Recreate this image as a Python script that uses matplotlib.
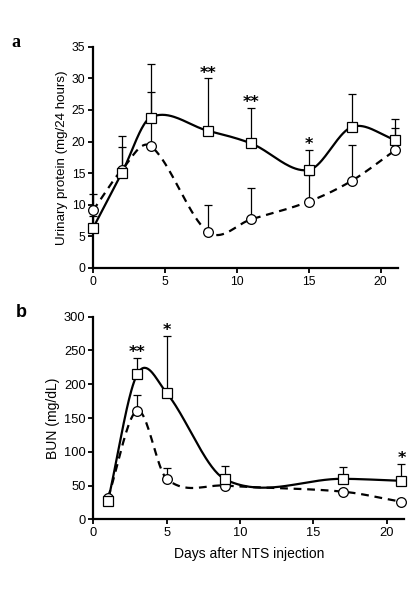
import numpy as np
import matplotlib
matplotlib.use("Agg")
import matplotlib.pyplot as plt

plt.rcParams['font.family'] = ['Liberation Sans', 'DejaVu Sans']

# panel a: urinary protein (mg/24 hours)
days_a = [0, 2, 4, 8, 11, 15, 18, 21]
prot_sq = [6.3, 15.0, 23.8, 21.7, 19.7, 15.5, 22.3, 20.3]
prot_sq_err = [2.0, 5.8, 8.4, 8.3, 5.6, 3.2, 5.2, 3.2]
prot_ci = [9.1, 15.5, 19.3, 5.7, 7.7, 10.5, 13.8, 18.6]
prot_ci_err = [2.6, 3.7, 8.6, 4.3, 4.9, 4.2, 5.7, 3.5]
stars_a = {8: '**', 11: '**', 15: '*'}

# panel b: BUN (mg/dL)
days_b = [1, 3, 5, 9, 17, 21]
bun_sq = [27, 215, 187, 59, 60, 57]
bun_sq_err = [0, 24, 85, 20, 17, 25]
bun_ci = [32, 161, 60, 50, 41, 26]
bun_ci_err = [0, 23, 16, 0, 0, 0]
stars_b = {3: '**', 5: '*', 21: '*'}


def smooth(x, y, n=40):
    # catmull-rom style hermite curve through the points
    x = np.asarray(x, float)
    y = np.asarray(y, float)
    m = np.zeros(len(x))
    m[1:-1] = (y[2:] - y[:-2]) / (x[2:] - x[:-2])
    m[0] = (y[1] - y[0]) / (x[1] - x[0])
    m[-1] = (y[-1] - y[-2]) / (x[-1] - x[-2])
    xs_all, ys_all = [], []
    for i in range(len(x) - 1):
        h = x[i + 1] - x[i]
        t = np.linspace(0, 1, n)
        h00 = 2 * t**3 - 3 * t**2 + 1
        h10 = t**3 - 2 * t**2 + t
        h01 = -2 * t**3 + 3 * t**2
        h11 = t**3 - t**2
        xs_all.append(x[i] + t * h)
        ys_all.append(h00 * y[i] + h10 * h * m[i] + h01 * y[i + 1] + h11 * h * m[i + 1])
    return np.concatenate(xs_all), np.concatenate(ys_all)


def draw(ax, x, y, err, marker, ls):
    x = np.asarray(x, float)
    y = np.asarray(y, float)
    err = np.asarray(err, float)
    xs, ys = smooth(x, y)
    ax.plot(xs, ys, color='k', lw=1.6, linestyle=ls, zorder=2, clip_on=False)
    m = err > 0
    ax.errorbar(x[m], y[m], yerr=[np.zeros(m.sum()), err[m]], fmt='none',
                ecolor='k', elinewidth=0.9, capsize=3.2, capthick=0.9, zorder=1,
                clip_on=False)
    ax.plot(x, y, linestyle='none', marker=marker, ms=6.8 if marker == 's' else 7,
            mfc='white', mec='k', mew=0.9, zorder=3, clip_on=False)


def style(ax, size):
    for s in ['top', 'right']:
        ax.spines[s].set_visible(False)
    for s in ['left', 'bottom']:
        ax.spines[s].set_linewidth(1.6)
    ax.tick_params(direction='out', length=3.5, width=1.3, labelsize=size, pad=2)


fig = plt.figure(figsize=(4.17, 5.89), dpi=100)

ax1 = fig.add_axes([0.223, 0.545, 0.731, 0.3757])
dash = (0, (3.5, 2.6))
draw(ax1, days_a, prot_ci, prot_ci_err, 'o', dash)
draw(ax1, days_a, prot_sq, prot_sq_err, 's', '-')
for d, s in stars_a.items():
    i = days_a.index(d)
    ax1.text(d, prot_sq[i] + prot_sq_err[i] + 0.1, s, ha='center', va='baseline',
             fontsize=11.5, fontweight='bold', family='DejaVu Sans')
ax1.set_xlim(0, 21.2)
ax1.set_ylim(0, 35)
ax1.set_xticks([0, 5, 10, 15, 20])
ax1.set_yticks(range(0, 36, 5))
ax1.set_ylabel('Urinary protein (mg/24 hours)', fontsize=9.6, labelpad=3)
style(ax1, 8.7)

ax2 = fig.add_axes([0.2237, 0.1183, 0.746, 0.344])
draw(ax2, days_b, bun_ci, bun_ci_err, 'o', dash)
draw(ax2, days_b, bun_sq, bun_sq_err, 's', '-')
for d, s in stars_b.items():
    i = days_b.index(d)
    ax2.text(d, bun_sq[i] + bun_sq_err[i] + 1, s, ha='center', va='baseline',
             fontsize=11.5, fontweight='bold', family='DejaVu Sans')
ax2.set_xlim(0, 21.2)
ax2.set_ylim(0, 300)
ax2.set_xticks([0, 5, 10, 15, 20])
ax2.set_yticks(range(0, 301, 50))
ax2.set_ylabel('BUN (mg/dL)', fontsize=10, labelpad=3)
ax2.set_xlabel('Days after NTS injection', fontsize=10, labelpad=6)
style(ax2, 9.3)

fig.text(0.038, 0.927, 'a', fontsize=13, fontweight='bold', family='Liberation Serif',
         ha='center', va='center')
fig.text(0.052, 0.470, 'b', fontsize=13, fontweight='bold', ha='center', va='center')

fig.savefig('out.png', dpi=100)
